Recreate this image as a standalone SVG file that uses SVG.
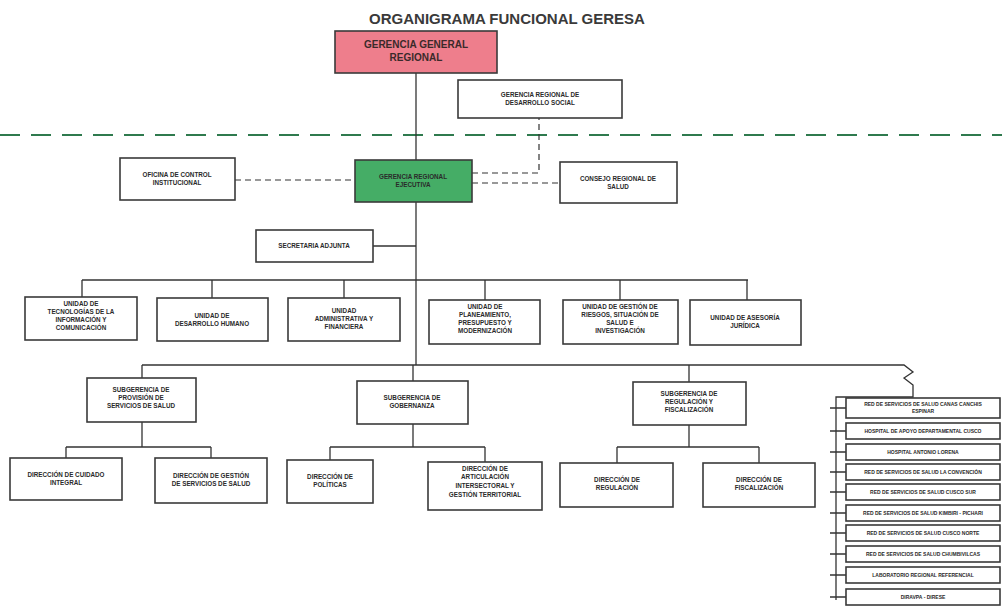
<svg xmlns="http://www.w3.org/2000/svg" width="1002" height="607" viewBox="0 0 1002 607">
<style>
.bg{fill:#ffffff}
.box{fill:#ffffff;stroke:#3a3a3a;stroke-width:1.6}
.pink{fill:#ee7e8c;stroke:#3a3a3a;stroke-width:1.6}
.green{fill:#45ad66;stroke:#3a3a3a;stroke-width:1.6}
.ln{fill:none;stroke:#333;stroke-width:1.3}
.dash{fill:none;stroke:#333;stroke-width:1.2;stroke-dasharray:6 4}
.gdash{fill:none;stroke:#2f7a4e;stroke-width:2.2;stroke-dasharray:20 11}
text{font-family:"Liberation Sans",Arial,sans-serif;fill:#2a2a2a;text-anchor:middle;font-weight:bold}
.t{font-size:6.3px}
.s{font-size:5px}
.big{font-size:10px;fill:#3a2a2a}
.title{font-size:15px;fill:#3a3a3a}
</style>
<rect class="bg" x="0" y="0" width="1002" height="607"/>
<text class="title" x="507" y="24">ORGANIGRAMA FUNCIONAL GERESA</text>
<line class="gdash" x1="0" y1="135" x2="1002" y2="135"/>

<g id="connectors">
<line class="ln" x1="416" y1="73" x2="416" y2="160"/>
<line class="ln" x1="416" y1="202" x2="416" y2="365"/>
<path class="dash" d="M235 180 H355"/>
<path class="dash" d="M472 173 H539 V118"/>
<path class="dash" d="M472 183 H560"/>
<line class="ln" x1="373" y1="246" x2="416" y2="246"/>
<line class="ln" x1="82" y1="280" x2="748" y2="280"/>
<path class="ln" d="M82 280 V297 M212 280 V298 M344 280 V298 M485 280 V300 M620 280 V300 M747 280 V300"/>
<line class="ln" x1="142" y1="365" x2="897" y2="365"/>
<path class="ln" d="M897 365 H904 L913 372 L904 378 L913 385 V397 H836 V600"/>
<path class="ln" d="M142 365 V378 M413 365 V381 M689 365 V382"/>
<path class="ln" d="M142 422 V447 M66 447 H211 M66 447 V458 M211 447 V458"/>
<path class="ln" d="M413 424 V447 M330 447 H485 M330 447 V460 M485 447 V462"/>
<path class="ln" d="M689 425 V447 M617 447 H759 M617 447 V463 M759 447 V463"/>
<path class="ln" d="M830 408 H846 M830 431 H846 M830 452 H846 M830 472 H846 M830 492 H846 M830 513 H846 M830 533 H846 M830 554 H846 M830 575 H846 M830 597 H846"/>
</g>

<g id="gerencia-general"><rect class="pink" x="335" y="31" width="162" height="42"/>
<text class="big" x="416" y="48">GERENCIA GENERAL</text><text class="big" x="416" y="61">REGIONAL</text></g>

<g id="desarrollo-social"><rect class="box" x="458" y="80" width="164" height="38"/>
<text class="t" x="540" y="97">GERENCIA REGIONAL DE</text><text class="t" x="540" y="105">DESARROLLO SOCIAL</text></g>

<g id="oci"><rect class="box" x="120" y="158" width="115" height="42"/>
<text class="t" x="177" y="177">OFICINA DE CONTROL</text><text class="t" x="177" y="185">INSTITUCIONAL</text></g>

<g id="ejecutiva"><rect class="green" x="355" y="160" width="117" height="42"/>
<text class="t" x="413" y="179">GERENCIA REGIONAL</text><text class="t" x="413" y="187">EJECUTIVA</text></g>

<g id="consejo"><rect class="box" x="560" y="162" width="117" height="41"/>
<text class="t" x="618" y="181">CONSEJO REGIONAL DE</text><text class="t" x="618" y="189">SALUD</text></g>

<g id="secretaria"><rect class="box" x="256" y="230" width="117" height="32"/>
<text class="t" x="314" y="248">SECRETARIA ADJUNTA</text></g>

<g id="u-tic"><rect class="box" x="25" y="297" width="112" height="43"/>
<text class="t" x="81" y="306">UNIDAD DE</text><text class="t" x="81" y="314">TECNOLOGÍAS DE LA</text><text class="t" x="81" y="322">INFORMACIÓN Y</text><text class="t" x="81" y="330">COMUNICACIÓN</text></g>

<g id="u-dh"><rect class="box" x="157" y="298" width="111" height="43"/>
<text class="t" x="212" y="318">UNIDAD DE</text><text class="t" x="212" y="326">DESARROLLO HUMANO</text></g>

<g id="u-af"><rect class="box" x="288" y="298" width="112" height="43"/>
<text class="t" x="344" y="313">UNIDAD</text><text class="t" x="344" y="321">ADMINISTRATIVA Y</text><text class="t" x="344" y="329">FINANCIERA</text></g>

<g id="u-ppm"><rect class="box" x="429" y="300" width="111" height="44"/>
<text class="t" x="485" y="309">UNIDAD DE</text><text class="t" x="485" y="317">PLANEAMIENTO,</text><text class="t" x="485" y="325">PRESUPUESTO Y</text><text class="t" x="485" y="333">MODERNIZACIÓN</text></g>

<g id="u-riesgos"><rect class="box" x="563" y="300" width="115" height="44"/>
<text class="t" x="620" y="309">UNIDAD DE GESTIÓN DE</text><text class="t" x="620" y="317">RIESGOS, SITUACIÓN DE</text><text class="t" x="620" y="325">SALUD E</text><text class="t" x="620" y="333">INVESTIGACIÓN</text></g>

<g id="u-aj"><rect class="box" x="690" y="300" width="111" height="45"/>
<text class="t" x="745" y="320">UNIDAD DE ASESORÍA</text><text class="t" x="745" y="328">JURÍDICA</text></g>

<g id="sg-provision"><rect class="box" x="87" y="378" width="109" height="44"/>
<text class="t" x="141" y="392">SUBGERENCIA DE</text><text class="t" x="141" y="400">PROVISIÓN DE</text><text class="t" x="141" y="408">SERVICIOS DE SALUD</text></g>

<g id="sg-gobernanza"><rect class="box" x="357" y="381" width="111" height="43"/>
<text class="t" x="412" y="400">SUBGERENCIA DE</text><text class="t" x="412" y="408">GOBERNANZA</text></g>

<g id="sg-regulacion"><rect class="box" x="633" y="382" width="113" height="43"/>
<text class="t" x="689" y="396">SUBGERENCIA DE</text><text class="t" x="689" y="404">REGULACIÓN Y</text><text class="t" x="689" y="412">FISCALIZACIÓN</text></g>

<g id="d-cuidado"><rect class="box" x="10" y="458" width="112" height="42"/>
<text class="t" x="66" y="477">DIRECCIÓN DE CUIDADO</text><text class="t" x="66" y="485">INTEGRAL</text></g>

<g id="d-gestion"><rect class="box" x="155" y="458" width="112" height="45"/>
<text class="t" x="211" y="478">DIRECCIÓN DE GESTIÓN</text><text class="t" x="211" y="486">DE SERVICIOS DE SALUD</text></g>

<g id="d-politicas"><rect class="box" x="287" y="460" width="86" height="43"/>
<text class="t" x="330" y="479">DIRECCIÓN DE</text><text class="t" x="330" y="487">POLÍTICAS</text></g>

<g id="d-articulacion"><rect class="box" x="428" y="462" width="114" height="48"/>
<text class="t" x="485" y="471">DIRECCIÓN DE</text><text class="t" x="485" y="479">ARTICULACIÓN</text><text class="t" x="485" y="488">INTERSECTORAL Y</text><text class="t" x="485" y="497">GESTIÓN TERRITORIAL</text></g>

<g id="d-regulacion"><rect class="box" x="560" y="463" width="113" height="44"/>
<text class="t" x="617" y="482">DIRECCIÓN DE</text><text class="t" x="617" y="490">REGULACIÓN</text></g>

<g id="d-fiscalizacion"><rect class="box" x="703" y="463" width="112" height="44"/>
<text class="t" x="759" y="482">DIRECCIÓN DE</text><text class="t" x="759" y="490">FISCALIZACIÓN</text></g>

<g id="redes">
<rect class="box" x="846" y="398" width="154" height="20"/>
<text class="s" x="923" y="406">RED DE SERVICIOS DE SALUD CANAS CANCHIS</text><text class="s" x="923" y="413">ESPINAR</text>
<rect class="box" x="846" y="423" width="154" height="16"/>
<text class="s" x="923" y="433">HOSPITAL DE APOYO DEPARTAMENTAL CUSCO</text>
<rect class="box" x="846" y="444" width="154" height="16"/>
<text class="s" x="923" y="454">HOSPITAL ANTONIO LORENA</text>
<rect class="box" x="846" y="464" width="154" height="16"/>
<text class="s" x="923" y="474">RED DE SERVICIOS DE SALUD LA CONVENCIÓN</text>
<rect class="box" x="846" y="484" width="154" height="16"/>
<text class="s" x="923" y="494">RED DE SERVICIOS DE SALUD CUSCO SUR</text>
<rect class="box" x="846" y="505" width="154" height="16"/>
<text class="s" x="923" y="515">RED DE SERVICIOS DE SALUD KIMBIRI - PICHARI</text>
<rect class="box" x="846" y="525" width="154" height="16"/>
<text class="s" x="923" y="535">RED DE SERVICIOS DE SALUD CUSCO NORTE</text>
<rect class="box" x="846" y="546" width="154" height="16"/>
<text class="s" x="923" y="556">RED DE SERVICIOS DE SALUD CHUMBIVILCAS</text>
<rect class="box" x="846" y="567" width="154" height="16"/>
<text class="s" x="923" y="577">LABORATORIO REGIONAL REFERENCIAL</text>
<rect class="box" x="846" y="589" width="154" height="16"/>
<text class="s" x="923" y="599">DIRAVPA - DIRESE</text>
</g>
</svg>
